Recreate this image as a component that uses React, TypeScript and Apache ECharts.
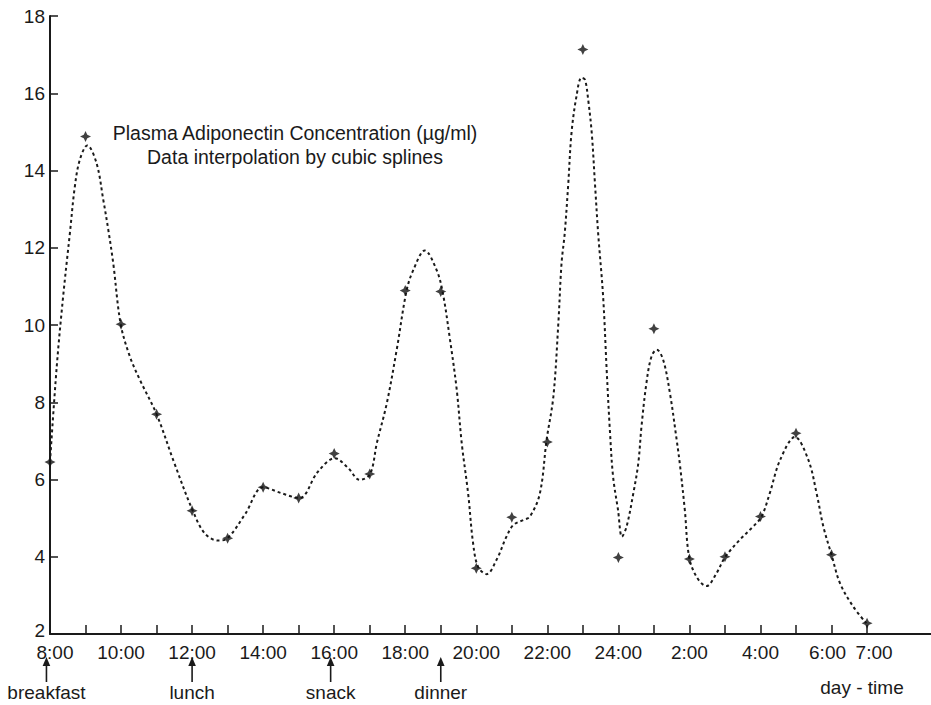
import React, { useEffect, useRef } from "react";
import * as echarts from "echarts";

// Sampling hours, counted from 8:00 on the first day
const sampleHours = [0, 1, 2, 3, 4, 5, 6, 7, 8, 9, 10, 11, 12, 13, 14, 15, 16, 17, 18, 19, 20, 21, 22, 23];
const clockLabels = [
  "8:00", "9:00", "10:00", "11:00", "12:00", "13:00", "14:00", "15:00", "16:00", "17:00", "18:00", "19:00",
  "20:00", "21:00", "22:00", "23:00", "24:00", "1:00", "2:00", "3:00", "4:00", "5:00", "6:00", "7:00",
];
const labelledHours = [0, 2, 4, 6, 8, 10, 12, 14, 16, 18, 20, 22, 23];

// Measured plasma adiponectin (µg/ml)
const adiponectin = [
  6.45, 14.88, 10.02, 7.69, 5.19, 4.48, 5.8, 5.52, 6.67, 6.14, 10.89, 10.87,
  3.7, 5.02, 6.97, 17.13, 3.98, 9.9, 3.94, 4.0, 5.04, 7.2, 4.05, 2.28,
];

// Cubic-spline curve, sampled along its course
const splineHours = [
  0, 0.19, 0.37, 0.56, 0.7, 0.84, 1.05, 1.31, 1.5, 1.64, 1.78, 1.99, 2.25, 2.53, 3.0, 3.49, 4.02, 4.36, 4.73, 5.0,
  5.49, 6.0, 6.5, 7.02, 7.54, 8.02, 8.39, 8.72, 9.01, 9.2, 9.48, 9.76, 10.04, 10.23, 10.55, 10.88, 11.05, 11.26,
  11.45, 11.59, 11.77, 11.91, 12.05, 12.29, 12.57, 12.85, 13.04, 13.32, 13.51, 13.79, 13.98, 14.17, 14.31, 14.4,
  14.49, 14.59, 14.68, 14.82, 14.96, 15.06, 15.15, 15.25, 15.34, 15.43, 15.57, 15.67, 15.76, 15.85, 15.99, 16.1,
  16.23, 16.42, 16.56, 16.65, 16.79, 16.93, 17.08, 17.26, 17.45, 17.64, 17.73, 17.87, 17.99, 18.2, 18.48, 18.76,
  19.01, 19.42, 19.79, 20.03, 20.26, 20.55, 20.97, 21.35, 21.58, 21.77, 22.0, 22.24, 22.61, 22.98,
];
const splineValues = [
  6.45, 8.93, 10.74, 12.38, 13.59, 14.28, 14.65, 14.19, 13.24, 12.47, 11.6, 10.02, 9.18, 8.58, 7.69, 6.45, 5.19, 4.6, 4.42, 4.48,
  5.1, 5.8, 5.65, 5.52, 6.2, 6.55, 6.3, 5.99, 6.14, 6.94, 7.97, 9.36, 10.9, 11.43, 11.93, 11.43, 10.87, 9.62,
  8.32, 6.94, 5.64, 4.35, 3.74, 3.55, 3.92, 4.52, 4.82, 4.95, 5.04, 5.64, 7.03, 8.15, 10.05, 11.6,
  12.38, 13.67, 14.97, 15.92, 16.4, 16.35, 15.83, 14.97, 13.67, 12.38, 10.74, 8.84, 7.28, 6.08, 5.21, 4.52,
  4.78, 5.64, 6.42, 7.37, 8.5, 9.18, 9.36, 9.1, 8.24, 7.03, 6.4, 5.21, 4.0, 3.48, 3.24, 3.57,
  4.0, 4.44, 4.78, 5.04, 5.64, 6.5, 7.1, 6.5, 5.64, 4.78, 4.05, 3.31, 2.71, 2.28,
];

// Meals, marked below the time axis
const mealNames = ["breakfast", "lunch", "snack", "dinner"];
const mealHours = [-0.1, 4, 7.9, 11];

const yTicks = [2, 4, 6, 8, 10, 12, 14, 16, 18];

const FONT = '"Liberation Sans", Arial, Helvetica, sans-serif';
const INK = "#1a1a1a";

const starPath = "path://M0,-10 L3.2,-3.2 L10,0 L3.2,3.2 L0,10 L-3.2,3.2 L-10,0 L-3.2,-3.2 Z";

// Small nudges for crowded time labels
const labelRich = {
  r5: { padding: [0, 0, 0, 10] },
  l4: { padding: [0, 8, 0, 0] },
  r7: { padding: [0, 0, 0, 14] },
};

export default function App() {
  const ref = useRef<HTMLDivElement>(null);

  useEffect(() => {
    if (!ref.current) return;
    const chart = echarts.init(ref.current, undefined, { renderer: "svg" });

    const option: any = {
      animation: false,
      backgroundColor: "#ffffff",
      grid: { left: 50, right: 0, top: 16, bottom: 71 },
      xAxis: {
        type: "value",
        min: 0,
        max: 24.8,
        interval: 1,
        splitLine: { show: false },
        axisLine: { show: true, lineStyle: { color: INK, width: 2 } },
        axisTick: {
          show: true,
          inside: true,
          length: 9,
          customValues: sampleHours,
          lineStyle: { color: INK, width: 1.5 },
        },
        axisLabel: {
          customValues: labelledHours,
          hideOverlap: false,
          margin: 9,
          color: INK,
          fontSize: 19,
          fontFamily: FONT,
          rich: labelRich,
          formatter: (v: number) => {
            const i = Math.round(v);
            const t = clockLabels[i] ?? "";
            if (i === 0) return `{r5|${t}}`;
            if (i === 22) return `{l4|${t}}`;
            if (i === 23) return `{r7|${t}}`;
            return t;
          },
        },
      },
      yAxis: {
        type: "value",
        min: 2,
        max: 18,
        interval: 2,
        splitLine: { show: false },
        axisLine: { show: true, lineStyle: { color: INK, width: 2 } },
        axisTick: {
          show: true,
          inside: true,
          length: 8,
          customValues: yTicks,
          lineStyle: { color: INK, width: 1.5 },
        },
        axisLabel: {
          margin: 5,
          color: INK,
          fontSize: 19,
          fontFamily: FONT,
          rich: { low: { padding: [0, 0, 8, 0] } },
          formatter: (v: number) => (v === 2 ? `{low|${v}}` : `${v}`),
        },
      },
      series: [
        {
          type: "line",
          name: "spline",
          data: splineHours.map((h, i) => [h, splineValues[i]]),
          smooth: 0.35,
          showSymbol: false,
          symbol: "none",
          lineStyle: { color: INK, width: 2, type: [3, 3] },
          z: 2,
        },
        {
          type: "scatter",
          name: "adiponectin",
          data: sampleHours.map((h, i) => [h, adiponectin[i]]),
          symbol: starPath,
          symbolSize: 11,
          itemStyle: { color: "#111111" },
          z: 3,
        },
      ],
    };
    chart.setOption(option);

    // Annotations: heading, meal arrows and the axis caption
    const graphics: any[] = [
      {
        type: "text",
        style: {
          text: "Plasma Adiponectin Concentration (µg/ml)\nData interpolation by cubic splines",
          x: 295,
          y: 121,
          align: "center",
          verticalAlign: "top",
          lineHeight: 24,
          fontSize: 19.5,
          fontFamily: FONT,
          fill: INK,
        },
      },
      {
        type: "text",
        style: {
          text: "day - time",
          x: 862,
          y: 678,
          align: "center",
          verticalAlign: "top",
          fontSize: 19,
          fontFamily: FONT,
          fill: INK,
        },
      },
    ];
    mealNames.forEach((name, i) => {
      const px = chart.convertToPixel({ xAxisIndex: 0 }, mealHours[i]) as number;
      graphics.push(
        {
          type: "line",
          shape: { x1: px, y1: 664, x2: px, y2: 682 },
          style: { stroke: INK, lineWidth: 1.6 },
        },
        {
          type: "polygon",
          shape: { points: [[px, 657], [px - 3.8, 666], [px + 3.8, 666]] },
          style: { fill: INK },
        },
        {
          type: "text",
          style: {
            text: name,
            x: px,
            y: 683,
            align: "center",
            verticalAlign: "top",
            fontSize: 19,
            fontFamily: FONT,
            fill: INK,
          },
        }
      );
    });
    chart.setOption({ graphic: graphics });

    return () => chart.dispose();
  }, []);

  return (
    <div
      ref={ref}
      style={{ position: "fixed", left: 0, top: 0, width: 931, height: 705, background: "#fff" }}
    />
  );
}
